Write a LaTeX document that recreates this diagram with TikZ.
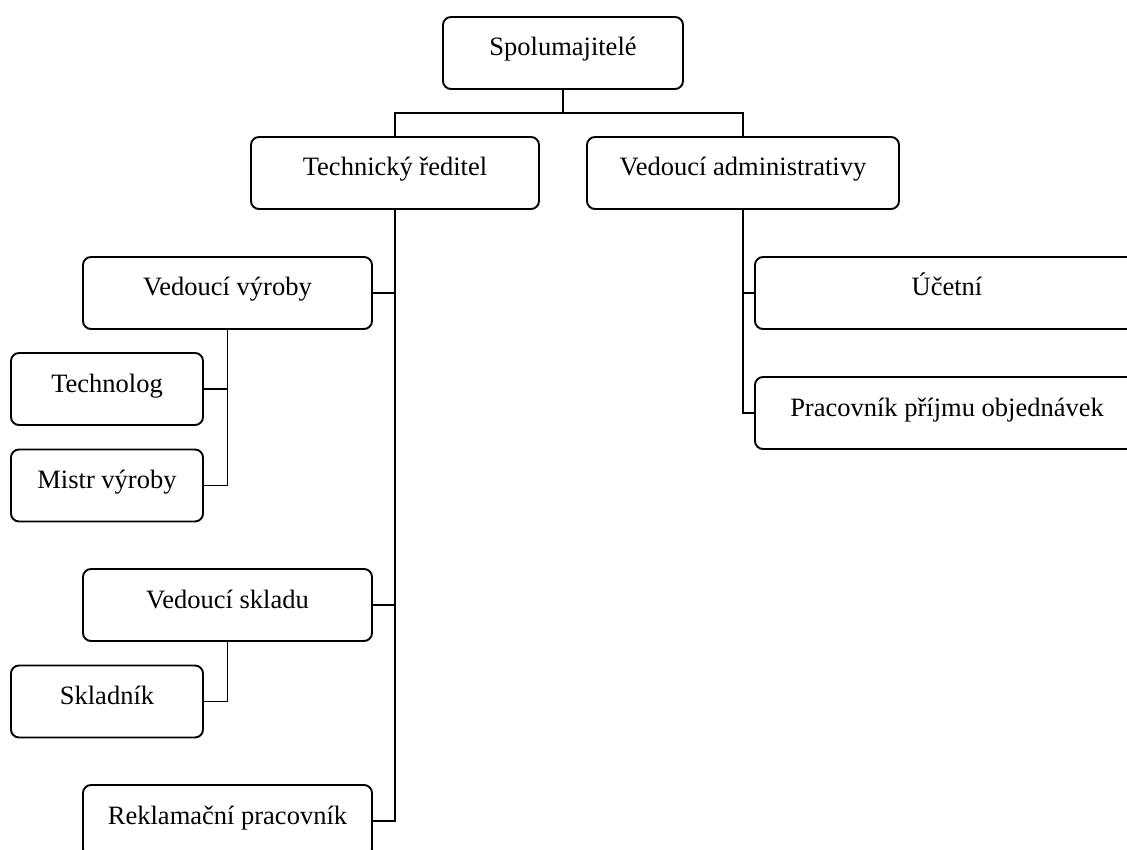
\documentclass[tikz,border=0pt]{standalone}
\usepackage{fontspec}
\setmainfont{Liberation Serif}
\usetikzlibrary{positioning}

\tikzset{
  box/.style={draw, rounded corners=8pt, line width=1.9pt, inner sep=0pt,
    minimum height=72pt, text height=13pt, text depth=7pt,
    font=\fontsize{26.5}{30}\selectfont},
  link/.style={line width=1.9pt}
}

\begin{document}
\begin{tikzpicture}[x=1pt, y=-1pt]
  \useasboundingbox (0,0) rectangle (1127,850);
  \clip (0,0) rectangle (1127,850);

  % Top
  \node[box, minimum width=240pt] (sp) at (563,53) {Spolumajitelé};
  \node[box, minimum width=288pt] (tr) at (395,173) {Technický ředitel};
  \node[box, minimum width=312pt] (va) at (743,173) {Vedoucí administrativy};
  \coordinate (top) at (563,113);

  % Left branch
  \node[box, minimum width=289pt] (vv) at (227.5,293) {Vedoucí výroby};
  \node[box, minimum width=192pt] (tech) at (107,389) {Technolog};
  \node[box, minimum width=192pt] (mv) at (107,485.5) {Mistr výroby};
  \node[box, minimum width=289pt] (vs) at (227.5,605) {Vedoucí skladu};
  \node[box, minimum width=192pt] (skl) at (107,701.5) {Skladník};
  \node[box, minimum width=289pt] (rp) at (227.5,821) {Reklamační pracovník};

  % Right branch
  \node[box, minimum width=384pt] (uc) at (947,293) {Účetní};
  \node[box, minimum width=384pt] (pp) at (947,413) {Pracovník příjmu objednávek};

  % Lines
  \draw[link] (sp.south) -- (top);
  \draw[link] (tr.north) |- (top) -| (va.north);
  \draw[link] (vv.east) -| (tr.south);
  \draw[link] (vs.east) -| (tr.south);
  \draw[link] (rp.east) -| (tr.south);
  \draw[link] (tech.east) -| (vv.south);
  \draw[link] (mv.east) -| (vv.south);
  \draw[link] (skl.east) -| (vs.south);
  \draw[link] (uc.west) -| (va.south);
  \draw[link] (pp.west) -| (va.south);
\end{tikzpicture}
\end{document}
